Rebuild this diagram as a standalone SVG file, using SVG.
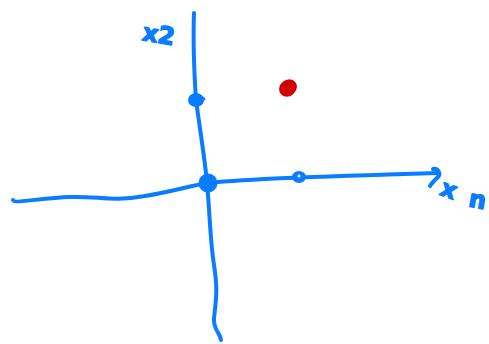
<svg xmlns="http://www.w3.org/2000/svg" width="489" height="344" viewBox="0 0 489 344">
<style>
.ink{fill:none;stroke:#0a7cff;stroke-width:4;stroke-linecap:round;stroke-linejoin:round}
.dot{fill:#0a7cff}
.lbl{fill:#0a7cff;stroke:#0a7cff;stroke-width:1.5;stroke-linejoin:round;font-family:"DejaVu Sans",sans-serif;font-size:24px;font-weight:bold}
</style>
<rect width="489" height="344" fill="#fff"/>
<g id="connectors">
<path class="ink" d="M13,200 C14,204 40,198 70,197 C100,196 110,202 145,196 C170,192 190,186 207,183 C250,179 300,177 438,173"/>
<path class="ink" d="M194,13 C193,40 194,70 196,100 C200,130 205,160 207,183 C210,215 210,240 214,265 C218,290 216,300 214,318 C213,330 220,332 221,340"/>
<path class="ink" d="M433,169 C438,168 442,174 437,178 C434,181 431,184 430,186"/>
</g>
<g id="origin"><circle class="dot" cx="208" cy="183" r="9.5"/></g>
<g id="x2-tick"><ellipse class="dot" cx="196" cy="100" rx="8" ry="7"/><path class="ink" d="M199,96 L204,99" style="stroke-width:3"/></g>
<g id="x1-tick"><ellipse class="dot" cx="299" cy="177" rx="7" ry="6"/><circle cx="299" cy="176" r="1.5" fill="#fff"/></g>
<g id="point"><ellipse cx="288" cy="88" rx="9.5" ry="8" fill="#d10000" transform="rotate(-40 288 88)"/></g>
<g id="label-x2"><text class="lbl" x="143" y="43" transform="rotate(10 160 33)">x2</text></g>
<g id="label-x1"><text class="lbl" x="441" y="198" transform="rotate(20 450 190)">x</text><text class="lbl" x="469" y="208" transform="rotate(10 478 200)">n</text></g>
</svg>
